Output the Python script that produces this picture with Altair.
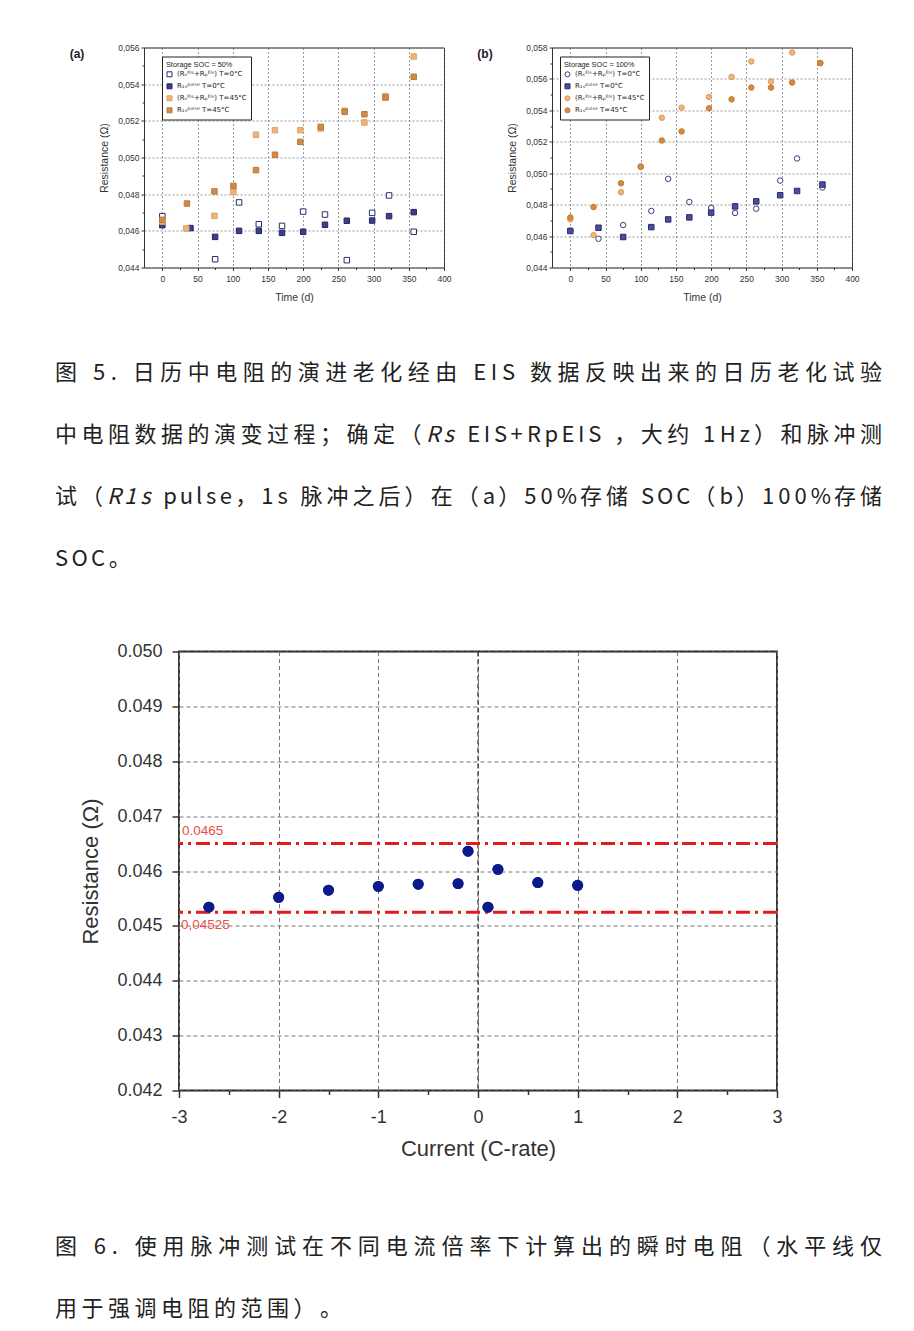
import altair as alt
import pandas as pd

# ---------------- data: Fig. 5 (a) storage SOC 50 % ----------------
SERIES = ["(Rₛᴱᴵˢ+Rₚᴱᴵˢ) T=0°C", "R₁ₛᵖᵘˡˢᵉ T=0°C", "(Rₛᴱᴵˢ+Rₚᴱᴵˢ) T=45°C", "R₁ₛᵖᵘˡˢᵉ T=45°C"]

A_EIS0_T = [0, 75, 109, 137, 170, 200, 231, 262, 298, 322, 357]
A_EIS0_R = [0.0468, 0.04445, 0.04755, 0.04636, 0.04627, 0.04705, 0.04689, 0.0444, 0.04698, 0.04793, 0.04595]
A_P0_T = [0, 40, 75, 109, 137, 170, 200, 231, 262, 298, 322, 357]
A_P0_R = [0.04631, 0.04615, 0.04567, 0.0460, 0.0460, 0.04589, 0.04595, 0.04633, 0.04655, 0.04656, 0.0468, 0.04702]
A_EIS45_T = [0, 34, 74, 101, 133, 160, 196, 225, 259, 287, 317, 357]
A_EIS45_R = [0.0465, 0.04613, 0.04682, 0.04813, 0.05124, 0.05149, 0.05149, 0.05158, 0.05255, 0.05191, 0.05335, 0.05551]
A_P45_T = [0, 35, 74, 101, 133, 160, 196, 225, 259, 287, 317, 357]
A_P45_R = [0.0466, 0.04749, 0.04815, 0.04845, 0.04931, 0.05015, 0.05085, 0.05167, 0.05249, 0.05236, 0.05327, 0.0544]

# ---------------- data: Fig. 5 (b) storage SOC 100 % ----------------
B_T0 = [0, 40, 75, 115, 139, 169, 200, 234, 264, 298, 322, 358]
B_EIS0_R = [0.04635, 0.04583, 0.0467, 0.0476, 0.04964, 0.04817, 0.04779, 0.04747, 0.04774, 0.04953, 0.05094, 0.04909]
B_P0_R = [0.04632, 0.04653, 0.04594, 0.04657, 0.04706, 0.04719, 0.04749, 0.04789, 0.04821, 0.0486, 0.04887, 0.04928]
B_T45 = [0, 33, 72, 100, 130, 158, 197, 229, 257, 285, 315, 355]
B_EIS45_R = [0.04706, 0.04606, 0.04879, 0.05045, 0.05353, 0.05417, 0.05485, 0.05613, 0.05711, 0.05583, 0.05768, 0.05700]
B_P45_R = [0.04719, 0.04785, 0.04936, 0.0504, 0.05208, 0.05266, 0.05413, 0.0547, 0.05545, 0.05545, 0.05577, 0.05702]

# ---------------- data: Fig. 6 ----------------
C_RATE = [-2.7, -2.0, -1.5, -1.0, -0.6, -0.2, -0.1, 0.1, 0.2, 0.6, 1.0]
C_RES = [0.04534, 0.04552, 0.04565, 0.04572, 0.04576, 0.04577, 0.04636, 0.04534, 0.04603, 0.04579, 0.04574]
REF_UPPER = 0.0465
REF_LOWER = 0.04525
REF_UPPER_LABEL = "0.0465"
REF_LOWER_LABEL = "0,04525"

# ---------------- captions ----------------
CAPTION5 = [
    [("图 5. 日历中电阻的演进老化经由 EIS 数据反映出来的日历老化试验", False)],
    [("中电阻数据的演变过程；确定（", False), ("Rs", True), (" EIS+RpEIS ，大约 1Hz）和脉冲测", False)],
    [("试（", False), ("R1s", True), (" pulse，1s 脉冲之后）在（a）50%存储 SOC（b）100%存储", False)],
    [("SOC。", False)],
]
CAPTION6 = [
    [("图 6. 使用脉冲测试在不同电流倍率下计算出的瞬时电阻（水平线仅", False)],
    [("用于强调电阻的范围）。", False)],
]

SANS = "Liberation Sans"
CJK = "Noto Sans CJK SC"
FS = 22
CAP_W = 827
LETTER_SP = 4.5
CHAR_W = {" ": .224, ".": .276, ",": .276, "E": .544, "I": .262, "S": .544, "R": .587, "p": .57,
          "s": .449, "H": .686, "z": .46, "u": .56, "l": .262, "e": .52, "a": .526, "b": .572,
          "O": .687, "C": .595, "%": .87, "+": .555, "(": .316, ")": .316}


def cw(c):
    if ord(c) >= 0x2E80:
        return 1.0
    if c.isdigit():
        return .555
    return CHAR_W.get(c, .55)


def caption_chart(lines, ys, justify, height):
    rows = []
    for segs, y, just in zip(lines, ys, justify):
        chars = [(c, it) for s, it in segs for c in s]
        ws = [cw(c) * FS for c, _ in chars]
        sp = (CAP_W - sum(ws)) / (len(chars) - 1) if just else LETTER_SP
        x = 0.0
        for (c, it), w in zip(chars, ws):
            if c != " ":
                rows.append({"ch": c, "px": x, "py": y, "it": it})
            x += w + sp
    df = pd.DataFrame(rows)
    base = alt.Chart(df).encode(
        x=alt.X("px:Q", scale=alt.Scale(domain=[0, CAP_W], nice=False, zero=False), axis=None),
        y=alt.Y("py:Q", scale=alt.Scale(domain=[0, height], reverse=True, nice=False, zero=False), axis=None),
        text="ch:N",
    )
    normal = base.transform_filter("!datum.it").mark_text(
        align="left", baseline="middle", font=CJK, fontSize=FS, color="#222")
    italic = base.transform_filter("datum.it").mark_text(
        align="left", baseline="middle", font=CJK, fontSize=FS, color="#222", fontStyle="italic")
    return alt.layer(normal, italic).properties(
        width=CAP_W, height=height, view=alt.ViewBackground(strokeWidth=0))


def spacer(w, h):
    return alt.Chart(pd.DataFrame({"s": [0]})).mark_point(opacity=0).encode(
        x=alt.value(0), y=alt.value(0)).properties(
        width=w, height=h, view=alt.ViewBackground(strokeWidth=0))


def series_frame(ts, rs):
    rows = []
    for name, t, r in zip(SERIES, ts, rs):
        for a, b in zip(t, r):
            rows.append({"t": a, "r": b, "series": name})
    return pd.DataFrame(rows)


def top_chart(df, ymax, fills, strokes, shapes, legend_title, legend_x, tag):
    yvals = [round(0.044 + 0.001 * i, 3) for i in range(int(round((ymax - 0.044) / 0.001)) + 1)]
    ymajor = "abs(round(datum.value*500) - datum.value*500) < 0.01"
    xmajor = "datum.value % 50 == 0"
    xaxis = alt.Axis(values=list(range(0, 401, 25)), labelExpr=f"{xmajor} ? datum.label : ''",
                     format="d", tickSize={"condition": {"test": xmajor, "value": 3}, "value": 2},
                     gridOpacity={"condition": {"test": xmajor, "value": 1}, "value": 0},
                     grid=True, gridDash=[2, 2], gridColor="#555", gridWidth=0.6,
                     title="Time (d)", titleFont=SANS, titleFontSize=10.5, titleFontWeight="normal",
                     titleColor="#333", labelFont=SANS, labelFontSize=8.5, labelColor="#333",
                     labelPadding=4, titlePadding=9, domain=False, tickColor="#333",
                     labelOverlap=False, labelFlush=False)
    yaxis = alt.Axis(values=yvals,
                     labelExpr=f"{ymajor} ? replace(format(datum.value, '.3f'), '.', ',') : ''",
                     tickSize={"condition": {"test": ymajor, "value": 3}, "value": 2},
                     gridOpacity={"condition": {"test": ymajor, "value": 1}, "value": 0},
                     grid=True, gridDash=[2, 2], gridColor="#555", gridWidth=0.6,
                     title="Resistance (Ω)", titleFont=SANS, titleFontSize=10.5, titleFontWeight="normal",
                     titleColor="#333", labelFont=SANS, labelFontSize=8.5, labelColor="#333",
                     labelPadding=2, titlePadding=8, domain=False, tickColor="#333",
                     labelOverlap=False, labelFlush=False)
    leg = alt.Legend(orient="none", legendX=legend_x, legendY=9, title=legend_title,
                     titleFont=SANS, titleFontSize=7.3, titleFontWeight="normal", titleColor="#222",
                     labelFont="DejaVu Sans", labelFontSize=7, labelColor="#222", labelLimit=200,
                     symbolSize=25, symbolStrokeWidth=1, strokeColor="#222", fillColor="white",
                     padding=4, rowPadding=3, titlePadding=3)
    pts = alt.Chart(df).mark_point(filled=True, size=30, strokeWidth=1, opacity=1).encode(
        x=alt.X("t:Q", scale=alt.Scale(domain=[-26, 400], nice=False, zero=False), axis=xaxis),
        y=alt.Y("r:Q", scale=alt.Scale(domain=[0.044, ymax], nice=False, zero=False), axis=yaxis),
        fill=alt.Fill("series:N", scale=alt.Scale(domain=SERIES, range=fills), legend=leg),
        stroke=alt.Stroke("series:N", scale=alt.Scale(domain=SERIES, range=strokes), legend=leg),
        shape=alt.Shape("series:N", scale=alt.Scale(domain=SERIES, range=shapes), legend=leg),
    )
    label = alt.Chart(pd.DataFrame({"tag": [tag]})).mark_text(
        font=SANS, fontSize=12, fontWeight="bold", color="#222", align="center", baseline="middle"
    ).encode(x=alt.value(-67), y=alt.value(6), text="tag:N")
    return alt.layer(pts, label).properties(
        width=300, height=220, view=alt.ViewBackground(stroke="#333", strokeWidth=1))


df_a = series_frame([A_EIS0_T, A_P0_T, A_EIS45_T, A_P45_T], [A_EIS0_R, A_P0_R, A_EIS45_R, A_P45_R])
df_b = series_frame([B_T0, B_T0, B_T45, B_T45], [B_EIS0_R, B_P0_R, B_EIS45_R, B_P45_R])

chart_a = top_chart(df_a, 0.056,
                    ["white", "#3c3f8e", "#ecb47a", "#cf8b4a"],
                    ["#2a2d6e", "#24275f", "#e0a363", "#b8783a"],
                    ["square", "square", "square", "square"],
                    "Storage SOC = 50%", 18, "(a)")
chart_b = top_chart(df_b, 0.058,
                    ["white", "#4a4d98", "#f0b57a", "#d98a3c"],
                    ["#3a3d7a", "#2a2d6e", "#d99a5a", "#c07830"],
                    ["circle", "square", "circle", "circle"],
                    "Storage SOC = 100%", 8, "(b)")

row1 = alt.hconcat(spacer(14, 220), chart_a, spacer(21, 220), chart_b, spacing=0).resolve_scale(
    x="independent", y="independent", fill="independent", stroke="independent", shape="independent")

# ---------------- Fig. 6 chart ----------------
df_c = pd.DataFrame({"c": C_RATE, "r": C_RES})
cmajor = "abs(round(datum.value) - datum.value) < 0.01"
rmajor = "abs(round(datum.value*1000) - datum.value*1000) < 0.01"
c_xaxis = alt.Axis(values=[-3 + 0.5 * i for i in range(13)],
                   labelExpr=f"{cmajor} ? toString(round(datum.value)) : ''",
                   tickSize={"condition": {"test": cmajor, "value": 7}, "value": 4},
                   gridOpacity={"condition": {"test": cmajor, "value": 1}, "value": 0},
                   grid=True, gridDash=[4, 3], gridColor="#777", gridWidth=1,
                   title="Current (C-rate)", titleFont=SANS, titleFontSize=22, titleFontWeight="normal",
                   titleColor="#333", labelFont=SANS, labelFontSize=18, labelColor="#333",
                   labelPadding=11, titlePadding=12, domain=False, tickColor="#333", tickWidth=1.5,
                   labelOverlap=False, labelFlush=False)
c_yaxis = alt.Axis(values=[round(0.042 + 0.0005 * i, 4) for i in range(17)],
                   labelExpr=f"{rmajor} ? format(datum.value, '.3f') : ''",
                   tickSize={"condition": {"test": rmajor, "value": 7}, "value": 4},
                   gridOpacity={"condition": {"test": rmajor, "value": 1}, "value": 0},
                   grid=True, gridDash=[4, 3], gridColor="#777", gridWidth=1,
                   title="Resistance (Ω)", titleFont=SANS, titleFontSize=22, titleFontWeight="normal",
                   titleColor="#333", labelFont=SANS, labelFontSize=18, labelColor="#333",
                   labelPadding=10, titlePadding=14, domain=False, tickColor="#333", tickWidth=1.5,
                   labelOverlap=False, labelFlush=False)
xs = alt.Scale(domain=[-3, 3], nice=False, zero=False)
ys = alt.Scale(domain=[0.042, 0.050], nice=False, zero=False)

pts_c = alt.Chart(df_c).mark_circle(size=120, color="#0d1b8a", opacity=1).encode(
    x=alt.X("c:Q", scale=xs, axis=c_xaxis), y=alt.Y("r:Q", scale=ys, axis=c_yaxis))
zero_line = alt.Chart(pd.DataFrame({"c": [0]})).mark_rule(
    color="#333", strokeDash=[5, 3], strokeWidth=1.2).encode(x=alt.X("c:Q", scale=xs))
refs = pd.DataFrame({"r": [REF_UPPER, REF_LOWER]})
ref_rules = alt.Chart(refs).mark_rule(color="#e31b1b", strokeWidth=3, strokeDash=[14, 5, 3, 5]).encode(
    y=alt.Y("r:Q", scale=ys))
ref_up_txt = alt.Chart(pd.DataFrame({"r": [REF_UPPER], "lab": [REF_UPPER_LABEL]})).mark_text(
    align="left", baseline="middle", font=SANS, fontSize=13.5, color="#e8504a", dy=-13, dx=3
).encode(x=alt.value(0), y=alt.Y("r:Q", scale=ys), text="lab:N")
ref_lo_txt = alt.Chart(pd.DataFrame({"r": [REF_LOWER], "lab": [REF_LOWER_LABEL]})).mark_text(
    align="left", baseline="middle", font=SANS, fontSize=13.5, color="#e8504a", dy=13, dx=2
).encode(x=alt.value(0), y=alt.Y("r:Q", scale=ys), text="lab:N")

chart_c = alt.layer(pts_c, zero_line, ref_rules, pts_c, ref_up_txt, ref_lo_txt).properties(
    width=598, height=439, view=alt.ViewBackground(stroke="#222", strokeWidth=1.8))

row3 = alt.hconcat(spacer(24, 439), chart_c, spacing=0).resolve_scale(x="independent", y="independent")

cap5 = caption_chart(CAPTION5, [69.5, 131.5, 193.5, 255.5], [True, True, True, False], 337.5)
cap6 = caption_chart(CAPTION6, [86, 148], [True, False], 163)

chart = alt.vconcat(row1, cap5, row3, cap6, spacing=0).resolve_scale(
    x="independent", y="independent").properties(
    padding={"left": 44, "top": 34.5, "right": 20, "bottom": 0}, background="white")

chart.save("out.html", embed_options={"renderer": "svg", "actions": False})
